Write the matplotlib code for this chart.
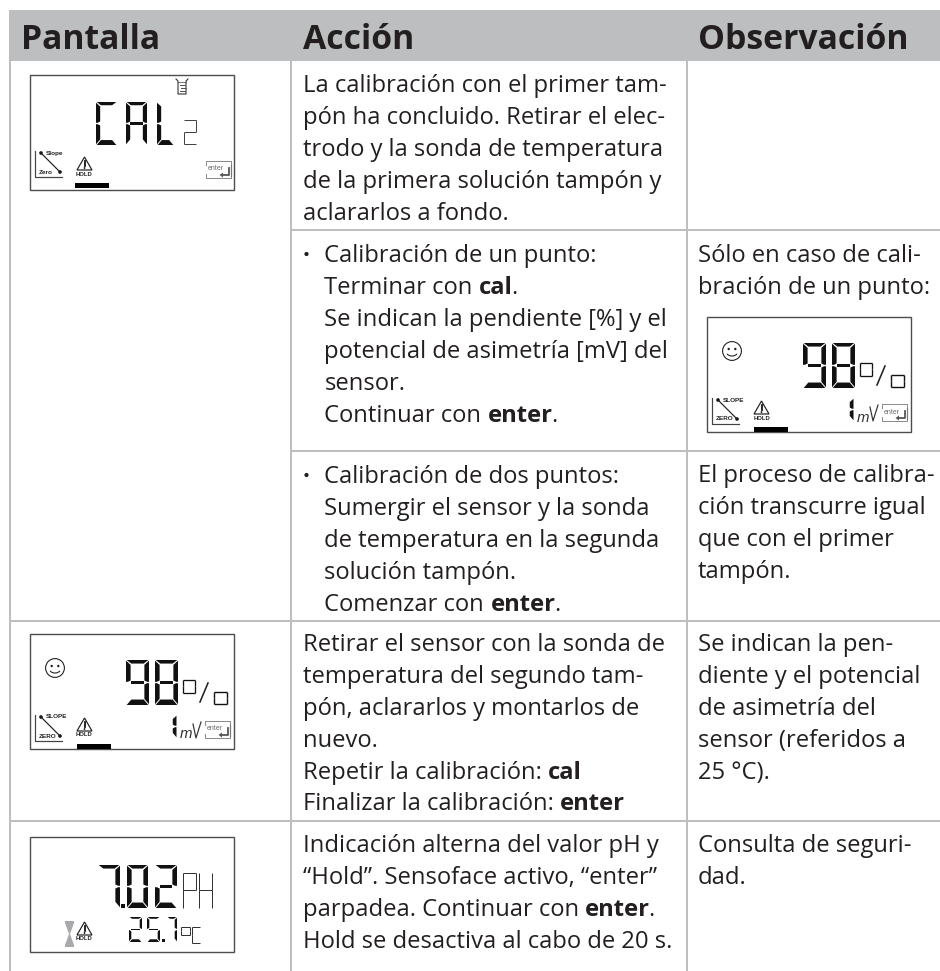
#!/usr/bin/env python3

import matplotlib
matplotlib.use('Agg')
import matplotlib.pyplot as plt
from matplotlib.patches import Rectangle, Polygon, Circle, Arc

TEXT_FONT = 'Open Sans'
TEXT_COLOR = '#231f20'
GRID_COLOR = '#bcbec0'
BODY_SIZE = 23.7

HEADERS = ['Pantalla', 'Acción', 'Observación']

# **...** marca los trozos en negrita
ROW1_ACTION = ['La calibración con el primer tam-',
               'pón ha concluido. Retirar el elec-',
               'trodo y la sonda de temperatura',
               'de la primera solución tampón y',
               'aclararlos a fondo.']
ROW2_ACTION = ['Calibración de un punto:',
               'Terminar con **cal**.',
               'Se indican la pendiente [%] y el',
               'potencial de asimetría [mV] del',
               'sensor.',
               'Continuar con **enter**.']
ROW2_NOTE = ['Sólo en caso de cali-',
             'bración de un punto:']
ROW3_ACTION = ['Calibración de dos puntos:',
               'Sumergir el sensor y la sonda',
               'de temperatura en la segunda',
               'solución tampón.',
               'Comenzar con **enter**.']
ROW3_NOTE = ['El proceso de calibra-',
             'ción transcurre igual',
             'que con el primer',
             'tampón.']
ROW4_ACTION = ['Retirar el sensor con la sonda de',
               'temperatura del segundo tam-',
               'pón, aclararlos y montarlos de',
               'nuevo.',
               'Repetir la calibración: **cal**',
               'Finalizar la calibración: **enter**']
ROW4_NOTE = ['Se indican la pen-',
             'diente y el potencial',
             'de asimetría del',
             'sensor (referidos a',
             '25 °C).']
ROW5_ACTION = ['Indicación alterna del valor pH y',
               '“Hold”. Sensoface activo, “enter”',
               'parpadea. Continuar con **enter**.',
               'Hold se desactiva al cabo de 20 s.']
ROW5_NOTE = ['Consulta de seguri-',
             'dad.']

SEGMENTS = {'0': 'abcdef', '2': 'abged', '5': 'afgcd', '7': 'abc', '8': 'abcdefg',
            '9': 'abcdfg', '1': 'bc', 'C': 'afed', 'A': 'abcefg', 'L': 'fed',
            'P': 'abfeg', 'H': 'bcefg', 'o': 'abcdef'}

fig = plt.figure(figsize=(9.4, 9.71), dpi=100)
ax = fig.add_axes([0, 0, 1, 1])
ax.set_xlim(0, 940)
ax.set_ylim(971, 0)
ax.axis('off')


def px(size):
    return size * 0.72


def text_width(s, size, weight):
    t = ax.text(0, 0, s + '.', fontsize=px(size), fontweight=weight, family=TEXT_FONT)
    d = ax.text(0, 0, '.', fontsize=px(size), fontweight=weight, family=TEXT_FONT)
    r = fig.canvas.get_renderer()
    w = t.get_window_extent(r).width - d.get_window_extent(r).width
    t.remove()
    d.remove()
    return w


def rich_line(x, y, line, size=BODY_SIZE):
    parts = line.split('**')
    for i, part in enumerate(parts):
        if not part:
            continue
        weight = 'bold' if i % 2 else 'normal'
        ax.text(x, y, part, fontsize=px(size), fontweight=weight, family=TEXT_FONT,
                color=TEXT_COLOR, va='baseline', ha='left')
        x += text_width(part, size, weight)
        if i % 2:
            x -= 1.5


def block(x, y, lines):
    for i, line in enumerate(lines):
        rich_line(x, y + i * 31.9, line)


def hline(x0, x1, y):
    ax.add_patch(Rectangle((x0, y - 1), x1 - x0, 2, fc=GRID_COLOR, ec='none'))


def vline(x, y0, y1):
    ax.add_patch(Rectangle((x - 1, y0), 2, y1 - y0, fc=GRID_COLOR, ec='none'))


def digit(x, y, w, h, ch, t=3.2, col='#111111', thin=False):
    # digito de siete segmentos; la barra inferior es mas gruesa que las demas
    if thin:
        m = y + h * 0.5
        lines = {'a': ((x, y), (x + w, y)), 'b': ((x + w, y), (x + w, m)),
                 'c': ((x + w, m), (x + w, y + h)), 'd': ((x, y + h), (x + w, y + h)),
                 'e': ((x, m), (x, y + h)), 'f': ((x, y), (x, m)), 'g': ((x, m), (x + w, m))}
        for s in SEGMENTS[ch]:
            (a, b), (c, d) = lines[s]
            ax.plot([a, c], [b, d], color=col, lw=px(t), solid_capstyle='butt')
        return
    g = 0.7
    m = y + h * 0.5
    tb = t * 1.3
    v = t * 1.1
    polys = {
        'a': [(x + g, y), (x + w - g, y), (x + w - v - g, y + t * 0.85), (x + v + g, y + t * 0.85)],
        'd': [(x + v + g, y + h - tb), (x + w - v - g, y + h - tb), (x + w - g, y + h), (x + g, y + h)],
        'g': [(x + v, m - t * 0.42), (x + w - v, m - t * 0.42), (x + w - v, m + t * 0.42), (x + v, m + t * 0.42)],
        'f': [(x, y + g), (x + v, y + t + g), (x + v, m - 2), (x + v * 0.4, m - 0.7), (x, m - 0.7)],
        'e': [(x, m + 0.7), (x + v * 0.4, m + 0.7), (x + v, m + 2), (x + v, y + h - tb - g), (x, y + h - g)],
        'b': [(x + w, y + g), (x + w - v, y + t + g), (x + w - v, m - 2), (x + w - v * 0.4, m - 0.7), (x + w, m - 0.7)],
        'c': [(x + w, m + 0.7), (x + w - v * 0.4, m + 0.7), (x + w - v, m + 2), (x + w - v, y + h - tb - g), (x + w, y + h - g)],
    }
    for s in SEGMENTS[ch]:
        ax.add_patch(Polygon(polys[s], closed=True, fc=col, ec='none'))


def small_label(x, y, s, size=6.4, ha='left', col='#222222', weight='bold'):
    ax.text(x, y, s, fontsize=px(size), color=col, fontweight=weight, family='Liberation Sans',
            ha=ha, va='center')


def lcd_frame(x0, y0, h=115.5):
    ax.add_patch(Rectangle((x0, y0), 204, h, fc='white', ec='#4d4d4f', lw=px(1.4)))


def slope_icon(x0, y0, upper, lower):
    ax.plot([x0 + 5, x0 + 5, x0 + 32], [y0, y0 + 26, y0 + 26], color='#444444', lw=px(1.2))
    ax.plot([x0 + 11, x0 + 30], [y0 + 2, y0 + 21], color='#222222', lw=px(1.2))
    ax.add_patch(Circle((x0 + 11, y0 + 2), 1.8, fc='#111111', ec='none'))
    ax.add_patch(Circle((x0 + 30, y0 + 21), 1.8, fc='#111111', ec='none'))
    small_label(x0 + 16, y0 + 2, upper)
    small_label(x0 + 9, y0 + 21, lower)


def warning_icon(x0, y0):
    ax.add_patch(Polygon([(x0, y0 + 13), (x0 + 7.5, y0), (x0 + 15, y0 + 13)], closed=True,
                         fc='white', ec='#222222', lw=px(1.2)))
    ax.plot([x0 + 7.5, x0 + 7.5], [y0 + 4, y0 + 9], color='#111111', lw=px(1.8))
    ax.add_patch(Circle((x0 + 7.5, y0 + 11), 0.9, fc='#111111', ec='none'))
    small_label(x0 + 7.5, y0 + 17, 'HOLD', size=6, ha='center')


def enter_icon(x0, y0):
    ax.plot([x0, x0, x0 + 25, x0 + 25], [y0 + 4, y0, y0, y0 + 4], color='#8a8c8e', lw=px(1))
    ax.plot([x0, x0, x0 + 25, x0 + 25], [y0 + 13, y0 + 17, y0 + 17, y0 + 13], color='#8a8c8e', lw=px(1))
    ax.plot([x0 + 25, x0 + 25], [y0 + 4, y0 + 15], color='#777777', lw=px(1.2))
    small_label(x0 + 2, y0 + 8, 'enter', size=7, col='#6d6e70', weight='normal')
    ax.plot([x0 + 22.5, x0 + 22.5, x0 + 16], [y0 + 7, y0 + 14, y0 + 14], color='#555555', lw=px(1.8))
    ax.add_patch(Polygon([(x0 + 17, y0 + 11.5), (x0 + 17, y0 + 16.5), (x0 + 13.5, y0 + 14)], fc='#555555', ec='none'))


def black_bar(x0, y0):
    ax.add_patch(Rectangle((x0, y0), 33.5, 4.6, fc='#000000', ec='none'))


def smiley(x0, y0):
    ax.add_patch(Circle((x0, y0), 9.4, fc='none', ec='#222222', lw=px(1.1)))
    ax.add_patch(Circle((x0 - 3.3, y0 - 2), 1.2, fc='#222222', ec='none'))
    ax.add_patch(Circle((x0 + 3.3, y0 - 2), 1.2, fc='#222222', ec='none'))
    ax.add_patch(Arc((x0, y0 + 1), 11, 8, theta1=20, theta2=160, color='#222222', lw=px(1.1)))


def beaker(x0, y0):
    ax.plot([x0, x0 + 2, x0 + 2, x0 + 10, x0 + 10, x0 + 12],
            [y0, y0 + 2, y0 + 15, y0 + 15, y0 + 2, y0], color='#333333', lw=px(1.1))
    ax.plot([x0 + 2, x0 + 10], [y0 + 3, y0 + 3], color='#555555', lw=px(0.8))
    for dx, dy in ((4, 6), (7, 6), (5, 9), (8, 9), (4, 12), (7, 12)):
        ax.plot([x0 + dx, x0 + dx + 1.6], [y0 + dy, y0 + dy], color='#555555', lw=px(1))


def hourglass(x0, y0):
    ax.add_patch(Polygon([(x0, y0), (x0 + 9, y0), (x0 + 9, y0 + 2), (x0 + 5, y0 + 13), (x0 + 9, y0 + 24),
                          (x0 + 9, y0 + 26), (x0, y0 + 26), (x0, y0 + 24), (x0 + 4, y0 + 13), (x0, y0 + 2)],
                         fc='#a7a9ac', ec='none'))


def lcd_percent(x0, y0):
    lcd_frame(x0, y0)
    smiley(x0 + 25, y0 + 34)
    for i, ch in enumerate('98'):
        digit(x0 + 96 + i * 29, y0 + 26, 23, 45, ch, t=4.2)
    digit(x0 + 153, y0 + 46, 12, 13, 'o', t=1.3, thin=True)
    ax.plot([x0 + 170, x0 + 178], [y0 + 68, y0 + 49], color='#222222', lw=px(1.6))
    digit(x0 + 184, y0 + 58, 13, 12, 'o', t=1.4, thin=True)
    slope_icon(x0, y0 + 81, 'SLOPE', 'ZERO')
    warning_icon(x0 + 47, y0 + 84)
    digit(x0 + 142, y0 + 81, 4.5, 23, '1', t=3.4)
    ax.text(x0 + 150, y0 + 104.5, 'm', fontsize=px(15), style='italic', color='#333333',
            family='Liberation Sans', va='baseline')
    ax.plot([x0 + 163, x0 + 166, x0 + 171], [y0 + 90, y0 + 104, y0 + 88], color='#333333', lw=px(1.2))
    enter_icon(x0 + 175, y0 + 87)
    black_bar(x0 + 47, y0 + 110.5)


# ---- tabla ----
ax.add_patch(Rectangle((9, 10), 931, 51.5, fc=GRID_COLOR, ec='none'))
vline(10, 61, 971)
vline(291, 61, 971)
vline(686.5, 61, 971)
hline(291, 940, 230)
hline(291, 940, 451)
hline(9, 940, 621)
hline(9, 940, 821.5)

for x, label in zip((21, 303, 698), HEADERS):
    ax.text(x, 49, label, fontsize=px(33.8), fontweight='bold', family=TEXT_FONT,
            color=TEXT_COLOR, va='baseline', ha='left')

block(303, 92, ROW1_ACTION)
ax.add_patch(Circle((306.5, 254), 2.1, fc=TEXT_COLOR, ec='none'))
block(324.5, 262, ROW2_ACTION)
block(698, 262, ROW2_NOTE)
ax.add_patch(Circle((306.5, 475), 2.1, fc=TEXT_COLOR, ec='none'))
block(324.5, 483, ROW3_ACTION)
block(698, 482, ROW3_NOTE)
block(303, 651, ROW4_ACTION)
block(698, 651, ROW4_NOTE)
block(303, 852, ROW5_ACTION)
block(698, 852, ROW5_NOTE)

# ---- pantalla CAL ----
lcd_frame(30, 75)
beaker(176, 79)
for x, ch in zip((96, 126, 157), 'CAL'):
    digit(x, 102, 21 if ch != 'L' else 17, 43, ch, t=3.8)
digit(184, 120, 12, 24, '2', t=1.0, thin=True, col='#444444')
slope_icon(30, 151, 'Slope', 'Zero')
warning_icon(77, 157)
enter_icon(206, 161)
black_bar(75, 183.5)

lcd_percent(707, 317)
lcd_percent(30, 634)

# ---- pantalla 7.02 pH ----
lcd_frame(30, 837)
digit(98, 865, 22, 43, '7', t=4.2)
ax.add_patch(Rectangle((120.5, 904), 4, 4, fc='#111111', ec='none'))
digit(127, 865, 21, 43, '0', t=4.2)
digit(155, 865, 22, 43, '2', t=4.2)
digit(183, 873, 13, 35, 'P', t=1.0, thin=True, col='#333333')
digit(199, 873, 13, 35, 'H', t=1.0, thin=True, col='#333333')
for x, w, ch in zip((129, 147, 167), (13, 13, 10), '257'):
    digit(x, 917, w, 25, ch, t=2.1)
ax.add_patch(Rectangle((162, 939), 2.5, 3, fc='#111111', ec='none'))
digit(181, 927, 9, 8, 'o', t=1.0, thin=True, col='#333333')
digit(192, 927, 8, 16, 'C', t=1.0, thin=True, col='#333333')
hourglass(65, 921)
warning_icon(77, 922)

plt.savefig('out.png', dpi=100)
